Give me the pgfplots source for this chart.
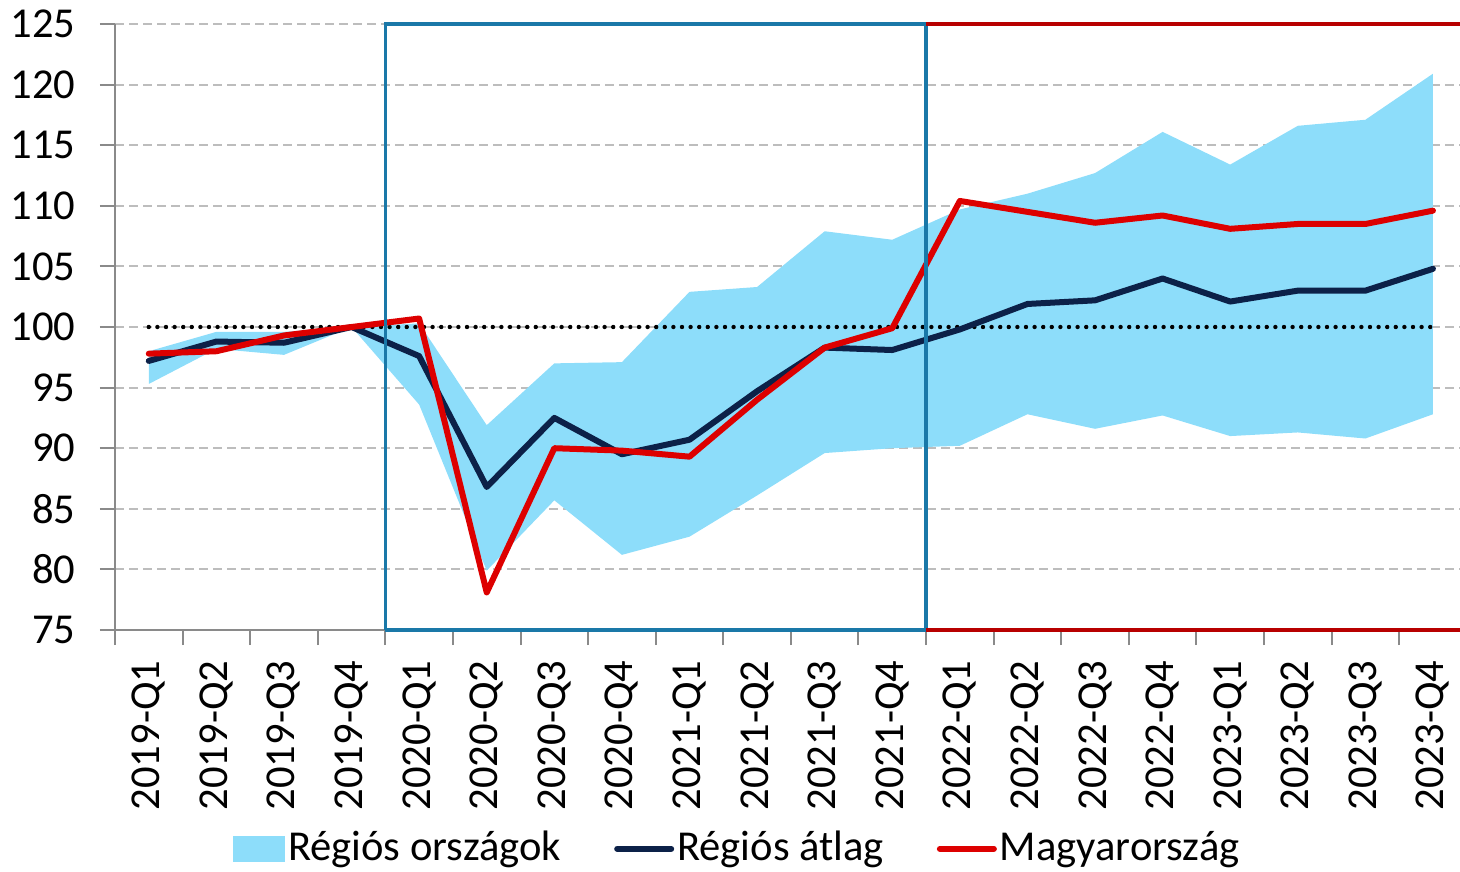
\documentclass[border=0pt]{standalone}
\usepackage{fontspec}
\setmainfont{Carlito}
\usepackage{pgfplots}
\pgfplotsset{compat=1.18}
\usepgfplotslibrary{fillbetween}
\definecolor{band}{HTML}{8DDDFA}
\definecolor{navy}{HTML}{0C2148}
\definecolor{hured}{HTML}{DD0000}
\definecolor{boxblue}{HTML}{1A78A8}
\definecolor{darkred}{HTML}{B80000}
\definecolor{axgray}{HTML}{8A8A8A}
\definecolor{gridgray}{HTML}{BDBDBD}

\pgfplotsset{
    lineleg/.style={legend image code/.code={\draw[##1] (0bp,0bp) -- (27bp,0bp);}},
    bandleg/.style={legend image code/.code={\fill[band] (0bp,-6.5bp) rectangle (26bp,6.5bp);}},
}

% x, also, felso, regios atlag, Magyarorszag
\pgfplotstableread{
x lo hi avg hu
0 95.3 98.0 97.2 97.8
1 98.2 99.6 98.8 98.0
2 97.7 99.6 98.7 99.3
3 100.0 100.0 100.0 100.0
4 93.6 100.3 97.6 100.7
5 79.9 91.9 86.8 78.1
6 85.7 97.0 92.5 90.0
7 81.2 97.1 89.5 89.8
8 82.7 102.9 90.7 89.3
9 86.1 103.3 94.7 94.0
10 89.6 107.9 98.3 98.3
11 90.0 107.2 98.1 99.9
12 90.2 109.7 99.8 110.4
13 92.8 111.0 101.9 109.5
14 91.6 112.7 102.2 108.6
15 92.7 116.1 104.0 109.2
16 91.0 113.4 102.1 108.1
17 91.3 116.6 103.0 108.5
18 90.8 117.1 103.0 108.5
19 92.8 120.9 104.8 109.6
}\datatable

\begin{document}
\fontsize{21.3bp}{25bp}\selectfont
\begin{tikzpicture}
\begin{axis}[
    at={(0,0)}, anchor=south west,
    scale only axis,
    width=672.5bp, height=303bp,
    xmin=-0.5, xmax=19.4,
    ymin=75, ymax=125,
    ytick={75,80,...,125},
    xtick={0,...,19},
    xticklabels={2019-Q1,2019-Q2,2019-Q3,2019-Q4,2020-Q1,2020-Q2,2020-Q3,2020-Q4,2021-Q1,2021-Q2,2021-Q3,2021-Q4,2022-Q1,2022-Q2,2022-Q3,2022-Q4,2023-Q1,2023-Q2,2023-Q3,2023-Q4},
    minor xtick={-0.5,0.5,...,18.5},
    x tick label style={rotate=90, anchor=east},
    xticklabel shift=0.5bp,
    yticklabel shift=5bp,
    major x tick style={draw=none},
    tick align=outside,
    major tick length=7.5bp,
    minor tick length=7.5bp,
    tick style={axgray, line width=1bp},
    axis x line*=bottom,
    axis y line*=left,
    axis line style={axgray, line width=1bp},
    ymajorgrids,
    grid style={gridgray, line width=1bp, dash pattern=on 4.5bp off 2.5bp},
    /pgf/number format/assume math mode=true,
    tick label style={font=\fontsize{21.3bp}{25bp}\selectfont},
    legend style={at={(0.463,-0.361)}, anchor=center, draw=none, fill=none,
        legend columns=3, font=\fontsize{21.3bp}{25bp}\selectfont,
        inner sep=0pt,
        /tikz/every even column/.append style={column sep=25bp},
        nodes={inner sep=1.5bp}},
    legend cell align=left,
    clip=false,
]
\addplot[name path=upperb, draw=none, forget plot] table[x=x, y=hi] {\datatable};
\addplot[name path=lowerb, draw=none, forget plot] table[x=x, y=lo] {\datatable};
\addplot[fill=band, draw=none, bandleg] fill between[of=upperb and lowerb];
\addlegendentry{Régiós országok}
\addplot[black, line width=2.2bp, line cap=round, dash pattern=on 0bp off 4.3bp, forget plot]
    coordinates {(0,100) (19,100)};
\addplot[navy, line width=3bp, line cap=round, line join=round, lineleg]
    table[x=x, y=avg] {\datatable};
\addlegendentry{Régiós átlag}
\addplot[hured, line width=3bp, line cap=round, line join=round, lineleg]
    table[x=x, y=hu] {\datatable};
\addlegendentry{Magyarország}
\addplot[boxblue, line width=1.8bp, forget plot]
    coordinates {(3.5,75) (3.5,125) (11.5,125) (11.5,75) (3.5,75)};
\addplot[darkred, line width=1.8bp, forget plot] coordinates {(11.5,125) (19.4,125)};
\addplot[darkred, line width=1.8bp, forget plot] coordinates {(11.5,75) (19.4,75)};
\end{axis}
\pgfresetboundingbox
\useasboundingbox (-57.5bp,-121bp) rectangle (672.5bp,315bp);
\end{tikzpicture}
\end{document}
